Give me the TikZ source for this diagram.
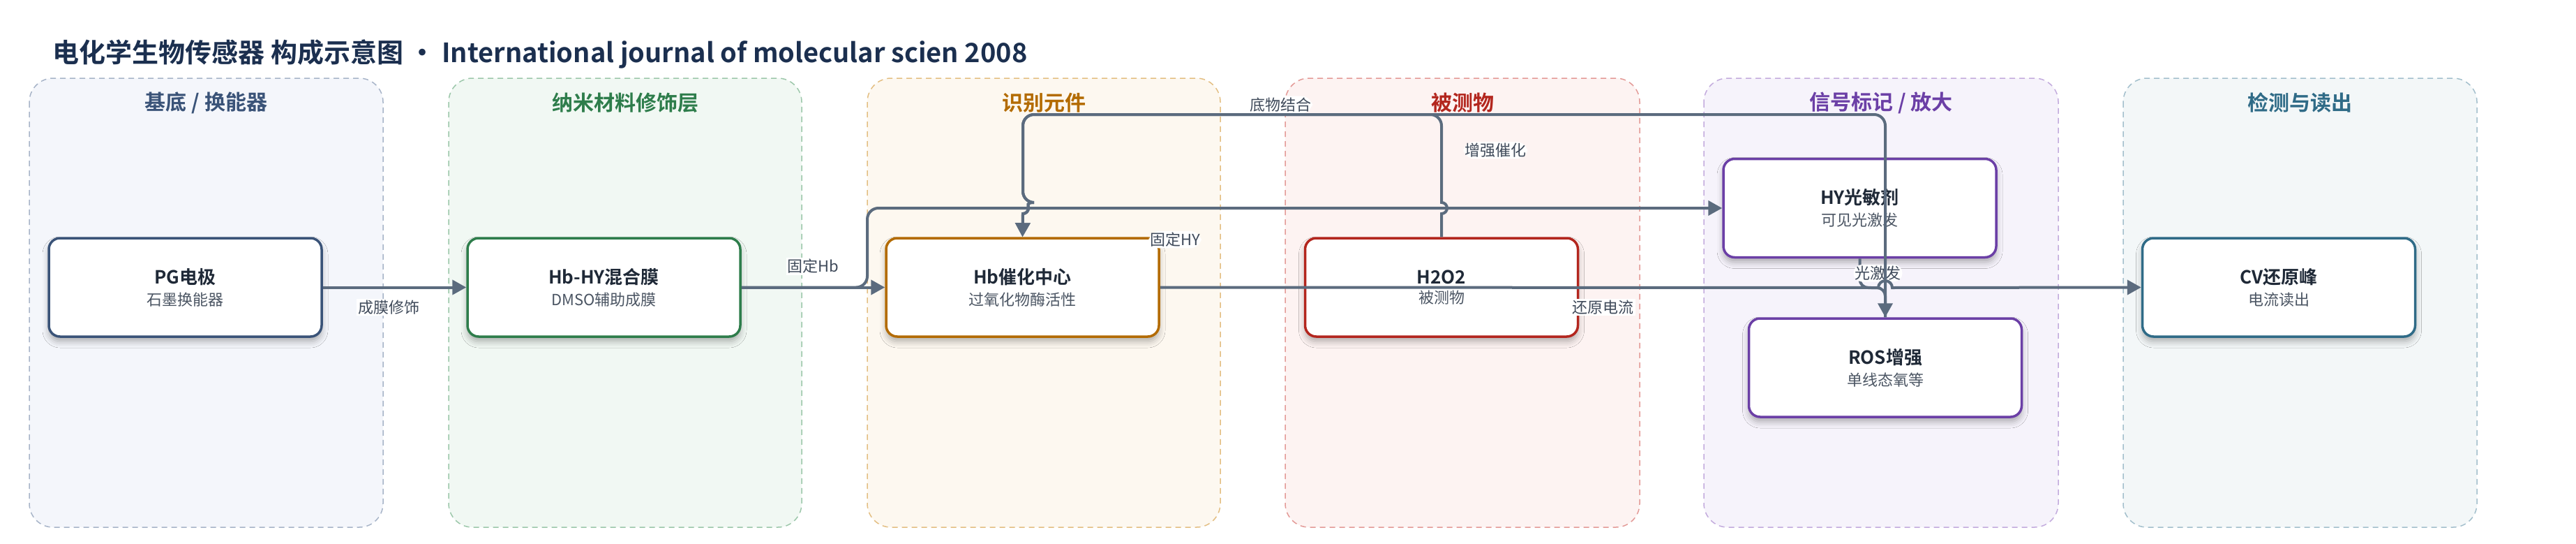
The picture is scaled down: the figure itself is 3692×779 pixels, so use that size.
\documentclass[tikz,border=0pt]{standalone}
\usepackage{fontspec}
\setmainfont{Noto Sans CJK SC}[BoldFont={Noto Sans CJK SC Bold}]
\usetikzlibrary{arrows.meta,shadows.blur}

\definecolor{ink}{HTML}{1F2937}
\definecolor{subgray}{HTML}{4B5563}
\definecolor{labc}{HTML}{3F4A5A}
\definecolor{connc}{HTML}{5B6B7E}
\definecolor{headc}{HTML}{1B2F4F}
\definecolor{laneAf}{HTML}{F4F6FB}\definecolor{laneAd}{HTML}{A7B4C8}\definecolor{laneAt}{HTML}{3A5378}
\definecolor{laneBf}{HTML}{F1F8F3}\definecolor{laneBd}{HTML}{9CC7AA}\definecolor{laneBt}{HTML}{2E7D4B}
\definecolor{laneCf}{HTML}{FDF8F0}\definecolor{laneCd}{HTML}{E3BE82}\definecolor{laneCt}{HTML}{B36B00}
\definecolor{laneDf}{HTML}{FDF3F2}\definecolor{laneDd}{HTML}{E39A97}\definecolor{laneDt}{HTML}{B3261E}
\definecolor{laneEf}{HTML}{F6F3FB}\definecolor{laneEd}{HTML}{C3ABDD}\definecolor{laneEt}{HTML}{6B3FA6}
\definecolor{laneFf}{HTML}{F3F7F8}\definecolor{laneFd}{HTML}{A3BFCC}\definecolor{laneFt}{HTML}{2F6B87}

\newcommand{\boxtext}[2]{{\bfseries\fontsize{26}{32}\selectfont #1}\\[9pt]{\fontsize{22}{26}\selectfont\color{subgray}#2}}

\begin{document}
\begin{tikzpicture}[x=1pt,y=-1pt,
    lane/.style={dash pattern=on 8pt off 6pt, line width=1.5pt, rounded corners=34pt},
    lanetitle/.style={font=\bfseries\fontsize{30}{36}\selectfont},
    stage/.style={draw, line width=3.5pt, rounded corners=16pt, fill=white,
        minimum width=391pt, minimum height=141pt, align=center, text=ink,
        blur shadow={shadow xshift=0pt, shadow yshift=-7pt, shadow blur radius=9pt, shadow opacity=30}},
    conn/.style={draw=connc, line width=4pt, -{Triangle[length=20pt,width=21pt]}},
    elabel/.style={fill=white, inner sep=2pt, text=labc, font=\fontsize{22}{26}\selectfont}]
    \useasboundingbox (0,0) rectangle (3692,779);

    % title
    \node[anchor=west, text=headc, font=\bfseries\fontsize{38}{44}\selectfont] (head) at (72,77)
        {电化学生物传感器 构成示意图 • International journal of molecular scien 2008};

    % lanes
    \draw[lane, draw=laneAd, fill=laneAf] (42,112) rectangle (549,755);
    \draw[lane, draw=laneBd, fill=laneBf] (643,112) rectangle (1149,755);
    \draw[lane, draw=laneCd, fill=laneCf] (1243,112) rectangle (1749,755);
    \draw[lane, draw=laneDd, fill=laneDf] (1842,112) rectangle (2350,755);
    \draw[lane, draw=laneEd, fill=laneEf] (2442,112) rectangle (2950,755);
    \draw[lane, draw=laneFd, fill=laneFf] (3043,112) rectangle (3550,755);
    \node[lanetitle, text=laneAt] (tA) at (295.5,147) {基底 / 换能器};
    \node[lanetitle, text=laneBt] (tB) at (896,147) {纳米材料修饰层};
    \node[lanetitle, text=laneCt] (tC) at (1496,147) {识别元件};
    \node[lanetitle, text=laneDt] (tD) at (2096,147) {被测物};
    \node[lanetitle, text=laneEt] (tE) at (2696,147) {信号标记 / 放大};
    \node[lanetitle, text=laneFt] (tF) at (3296.5,147) {检测与读出};

    % stages
    \node[stage, draw=laneAt] (pg) at (265.5,411.5) {\boxtext{PG电极}{石墨换能器}};
    \node[stage, draw=laneBt] (hbhy) at (865.5,411.5) {\boxtext{Hb-HY混合膜}{DMSO辅助成膜}};
    \node[stage, draw=laneCt] (hb) at (1465.5,411.5) {\boxtext{Hb催化中心}{过氧化物酶活性}};
    \node[stage, draw=laneDt] (hoo) at (2066,411.5) {\boxtext{H2O2}{被测物}};
    \node[stage, draw=laneEt] (hy) at (2665.5,298) {\boxtext{HY光敏剂}{可见光激发}};
    \node[stage, draw=laneEt] (ros) at (2702,526.5) {\boxtext{ROS增强}{单线态氧等}};
    \node[stage, draw=laneFt] (cv) at (3266,411.5) {\boxtext{CV还原峰}{电流读出}};

    % connectors
    \coordinate (bendHY) at (1243,298);
    \draw[conn] (pg.east) -- node[elabel, pos=0.46, below=14pt] (lA) {成膜修饰} (hbhy.west);
    \draw[conn] (hbhy.east) -- node[elabel, above=16pt] (lB) {固定Hb} (hb.west);
    \draw[conn, rounded corners=16pt] (hbhy.east) -| (bendHY)
        -- node[elabel, pos=0.36, below=31pt] (lC) {固定HY} (hy.west);
    \draw[conn] (hoo.north) -- (2066,306) arc[start angle=90, end angle=-90, radius=8]
        [rounded corners=16pt] -- (2066,164)
        -- node[elabel, pos=0.385, above=0pt] (lD) {底物结合} (1466,164) -- (1466,290)
        [sharp corners] arc[start angle=-90, end angle=90, radius=8] -- (hb.north);
    \draw[conn, rounded corners=12pt] (hy.south) |- node[elabel, pos=0.25, xshift=26pt] (lF) {光激发} (2702,412) -- (ros.north);
    \draw[conn] (ros.north) [rounded corners=16pt] -- (2702,164)
        -- node[elabel, pos=0.452, below=37pt] (lE) {增强催化} (1466,164) -- (1466,290)
        [sharp corners] arc[start angle=-90, end angle=90, radius=8] -- (hb.north);
    \draw[conn] (hb.east) -- node[elabel, pos=0.617, below=14pt] (lG) {还原电流} (2692,412)
        arc[start angle=180, end angle=360, radius=10] -- (cv.west);
\end{tikzpicture}
\end{document}
